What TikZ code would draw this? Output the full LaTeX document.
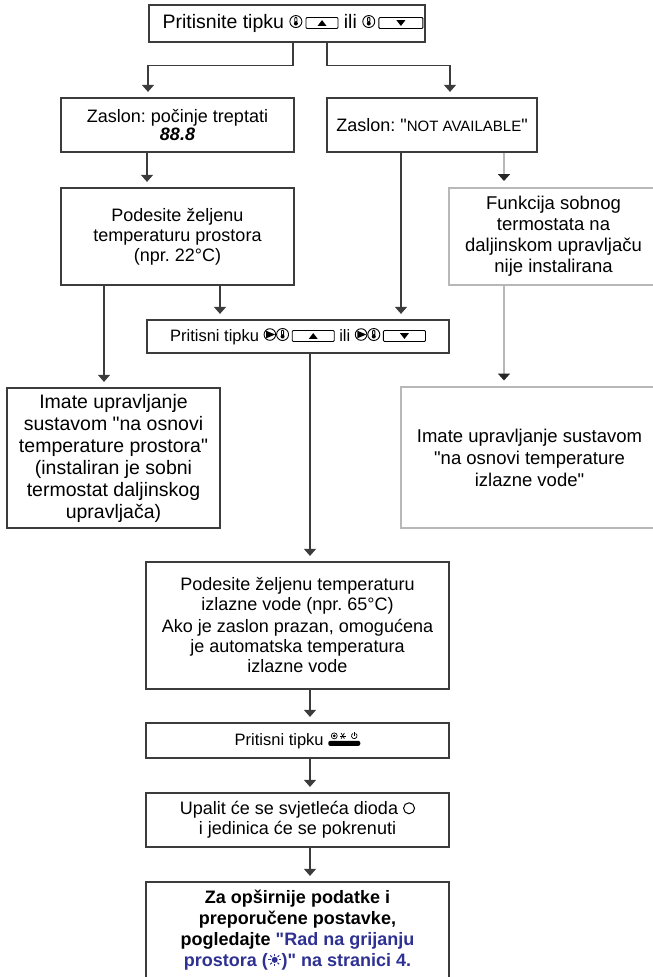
\documentclass[tikz,border=0pt]{standalone}
\usepackage{fontspec}
\setmainfont{Liberation Sans}[Ligatures=TeXOff]
\usetikzlibrary{arrows.meta}

\definecolor{boxline}{HTML}{3C3C3C}
\definecolor{greyline}{HTML}{B8B8B8}
\definecolor{linkblue}{HTML}{2E3192}

% small key symbols
\newcommand{\thermo}{\tikz[baseline=-1pt,x=1pt,y=1pt,line width=0.9pt]{
  \draw (0,6) circle (6); \draw[rounded corners=0.8pt] (-1.1,5.5) rectangle (1.1,10.2);
  \fill (0,4) circle (2);}}
\newcommand{\play}{\tikz[baseline=-1pt,x=1pt,y=1pt,line width=0.9pt]{
  \draw (0,6) circle (5.8); \fill (-3.8,2.2) -- (5.2,6) -- (-3.8,9.8) -- cycle;}}
\newcommand{\upkey}[1]{\tikz[baseline=0pt,x=1pt,y=1pt,line width=0.9pt]{
  \draw[rounded corners=1pt] (0,0) rectangle (#1,11);
  \fill (#1/2-4.5,2.6) -- (#1/2+4.5,2.6) -- (#1/2,8.4) -- cycle;}}
\newcommand{\downkey}[1]{\tikz[baseline=0pt,x=1pt,y=1pt,line width=0.9pt]{
  \draw[rounded corners=1pt] (0,0) rectangle (#1,11);
  \fill (#1/2-4.5,8.4) -- (#1/2+4.5,8.4) -- (#1/2,2.6) -- cycle;}}
\newcommand{\modekey}{\tikz[baseline=0pt,x=1pt,y=1pt,line width=0.7pt]{
  \fill[rounded corners=2pt] (0,0) rectangle (32,5);
  \draw (6,10) circle (3); \fill (6,10) circle (1.6);
  \foreach \a in {0,60,120} \draw (14.5,10)+(\a:3.2) -- +(\a+180:3.2);
  \draw (26,10)+(60:2.8) arc (60:-240:2.8); \draw (26,10) -- (26,13.8);}}
\newcommand{\led}{\tikz[baseline=0pt,x=1pt,y=1pt]{\draw[line width=1pt] (5.5,6.5) circle (5.5);}}
\newcommand{\heatsun}{\tikz[baseline=0pt,x=1pt,y=1pt]{
  \fill (0,6.5) circle (3);
  \foreach \a in {0,45,...,315} \draw[line width=1.1pt] (0,6.5)+(\a:4) -- +(\a:6.3);}}

\begin{document}
\frenchspacing
\begin{tikzpicture}[x=1pt,y=-1pt,
    box/.style = {draw=boxline, line width=1.2pt, align=center, inner sep=0pt,
      font=\fontsize{18}{20}\selectfont},
    greybox/.style = {box, draw=greyline, line width=2pt},
    arr/.style = {draw=boxline, line width=1.2pt, shorten >=5.5pt,
      -{Triangle[width=12pt,length=7pt]}},
    greyarr/.style = {arr, draw=greyline, line width=2pt,
      -{Triangle[width=12pt,length=7pt,color=black!85]}}]
  \useasboundingbox (0,0) rectangle (653,977);

  \node[box, minimum width=276, minimum height=37, font=\fontsize{19.5}{22}\selectfont]
    (top) at (287,23.5) {\hspace*{12pt}Pritisnite tipku \thermo\,\upkey{32} ili \thermo\,\downkey{44}};
  \node[box, minimum width=233, minimum height=54, font=\fontsize{18}{18}\selectfont]
    (A) at (177.5,125) {Zaslon: počinje treptati\\{\bfseries\itshape 88.8}};
  \node[box, minimum width=210, minimum height=54]
    (N) at (432,125) {Zaslon: "{\fontsize{15}{17}\selectfont NOT AVAILABLE}"};
  \node[box, minimum width=233, minimum height=97]
    (B) at (177.5,236.5) {Podesite željenu\\temperaturu prostora\\(npr. 22°C)};
  \node[greybox, minimum width=209, minimum height=97, font=\fontsize{18.5}{21}\selectfont]
    (F) at (553.5,236) {Funkcija sobnog\\termostata na\\daljinskom upravljaču\\nije instalirana};
  \node[box, minimum width=302, minimum height=33, font=\fontsize{16.5}{19}\selectfont]
    (D) at (298,336.5) {Pritisni tipku \play\thermo\,\upkey{42} ili \play\thermo\,\downkey{42}};
  \node[box, minimum width=213, minimum height=140, font=\fontsize{19.5}{22}\selectfont]
    (C) at (113.5,458) {Imate upravljanje\\sustavom "na osnovi\\temperature prostora"\\(instaliran je sobni\\termostat daljinskog\\upravljača)};
  \node[greybox, minimum width=257, minimum height=141, font=\fontsize{18.5}{22}\selectfont]
    (R) at (529.5,457.5) {Imate upravljanje sustavom\\"na osnovi temperature\\izlazne vode"};
  \node[box, minimum width=303, minimum height=127]
    (E) at (297.5,625.5) {Podesite željenu temperaturu\\izlazne vode (npr. 65°C)\\[2pt]Ako je zaslon prazan, omogućena\\je automatska temperatura\\izlazne vode};
  \node[box, minimum width=303, minimum height=35, font=\fontsize{16.5}{19}\selectfont]
    (M) at (297.5,740.5) {Pritisni tipku \modekey};
  \node[box, minimum width=303, minimum height=54]
    (G) at (297.5,820) {Upalit će se svjetleća dioda \led\\i jedinica će se pokrenuti};
  \node[box, minimum width=303, minimum height=96, font=\fontsize{18}{21}\selectfont\bfseries]
    (H) at (297.5,930) {Za opširnije podatke i\\preporučene postavke,\\pogledajte \textcolor{linkblue}{"Rad na grijanju}\\\textcolor{linkblue}{prostora (\heatsun)" na stranici 4.}};

  % columns of the connectors
  \coordinate (splitL) at (293,0);
  \coordinate (splitR) at (327,0);
  \coordinate (colL) at (148,0);
  \coordinate (colR) at (450,0);
  \coordinate (colA) at (147,0);
  \coordinate (colB) at (220,0);
  \coordinate (colC) at (104,0);
  \coordinate (colN) at (401,0);
  \coordinate (colG) at (504,0);
  \coordinate (mid) at (310,0);

  \draw[arr] (top.south -| splitL) -- ++(0,23) -| (A.north -| colL);
  \draw[arr] (top.south -| splitR) -- ++(0,23) -| (N.north -| colR);
  \draw[arr] (A.south -| colA) -- (B.north -| colA);
  \draw[arr] (B.south -| colB) -- (D.north -| colB);
  \draw[arr] (B.south -| colC) -- (C.north -| colC);
  \draw[arr] (N.south -| colN) -- (D.north -| colN);
  \draw[greyarr] (N.south -| colG) -- (F.north -| colG);
  \draw[greyarr] (F.south -| colG) -- (R.north -| colG);
  \draw[arr] (D.south -| mid) -- (E.north -| mid);
  \draw[arr] (E.south -| mid) -- (M.north -| mid);
  \draw[arr] (M.south -| mid) -- (G.north -| mid);
  \draw[arr] (G.south -| mid) -- (H.north -| mid);
\end{tikzpicture}
\end{document}
